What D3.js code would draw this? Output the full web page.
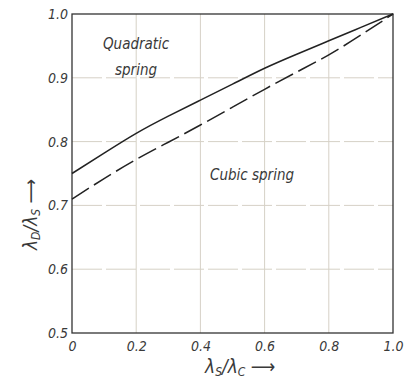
<!DOCTYPE html>
<html>
<head>
<meta charset="utf-8">
<script src="https://cdn.jsdelivr.net/npm/d3@7"></script>
<style>
  body { margin: 0; background: #fff; }
  text { font-family: "DejaVu Sans Condensed", "Liberation Sans Narrow", sans-serif; font-style: italic; fill: #3a3a3a; }
</style>
</head>
<body>
<svg id="chart"></svg>
<script>
const ratioX = [0, 0.1, 0.2, 0.3, 0.4, 0.5, 0.6, 0.7, 0.8, 0.9, 1.0];
const quadratic = [0.75, 0.782, 0.813, 0.84, 0.865, 0.89, 0.915, 0.937, 0.958, 0.979, 1.0];
const cubic = [0.71, 0.742, 0.772, 0.799, 0.826, 0.854, 0.882, 0.909, 0.936, 0.967, 1.0];
const xTicks = [0, 0.2, 0.4, 0.6, 0.8, 1.0];
const yTicks = [0.5, 0.6, 0.7, 0.8, 0.9, 1.0];

const margin = {top: 14, right: 15, bottom: 56, left: 72},
  width = 408,
  height = 389,
  innerW = width - margin.left - margin.right,
  innerH = height - margin.top - margin.bottom;

const svg = d3.select("#chart")
    .attr("width", width)
    .attr("height", height);
const g = svg.append("g")
    .attr("transform", `translate(${margin.left},${margin.top})`);

const x = d3.scaleLinear().domain([0, 1]).range([0, innerW]);
const y = d3.scaleLinear().domain([0.5, 1]).range([innerH, 0]);

// grid
g.append("g")
  .selectAll("line")
  .data(xTicks.slice(1, -1))
  .join("line")
    .attr("x1", d => x(d)).attr("x2", d => x(d))
    .attr("y1", 0).attr("y2", innerH)
    .attr("stroke", "#d6d1c6").attr("stroke-width", 1);
g.append("g")
  .selectAll("line")
  .data(yTicks.slice(1, -1))
  .join("line")
    .attr("x1", 0).attr("x2", innerW)
    .attr("y1", d => y(d)).attr("y2", d => y(d))
    .attr("stroke", "#d6d1c6").attr("stroke-width", 1)
    .attr("stroke-dasharray", "30,4");

// frame
g.append("rect")
  .attr("width", innerW).attr("height", innerH)
  .attr("fill", "none").attr("stroke", "#333").attr("stroke-width", 1.3);

// axes (labels only)
const xAxis = g.append("g")
  .attr("transform", `translate(0,${innerH})`)
  .call(d3.axisBottom(x).tickValues(xTicks).tickSize(0).tickPadding(8)
    .tickFormat(d => d === 0 ? "0" : d3.format(".1f")(d)));
const yAxis = g.append("g")
  .call(d3.axisLeft(y).tickValues(yTicks).tickSize(0).tickPadding(4)
    .tickFormat(d3.format(".1f")));
[xAxis, yAxis].forEach(a => {
  a.select(".domain").remove();
  a.selectAll("text").attr("font-size", 14).attr("fill", "#555")
    .style("font-family", "'DejaVu Sans Condensed', 'Liberation Sans Narrow', sans-serif");
});

const line = d3.line()
  .x((d, i) => x(ratioX[i]))
  .y(d => y(d))
  .curve(d3.curveNatural);

g.append("path")
  .datum(quadratic)
  .attr("d", line)
  .attr("fill", "none").attr("stroke", "#222").attr("stroke-width", 1.5);
g.append("path")
  .datum(cubic)
  .attr("d", line)
  .attr("fill", "none").attr("stroke", "#222").attr("stroke-width", 1.5)
  .attr("stroke-dasharray", "20,6");

// curve labels
g.append("text").attr("x", 31).attr("y", 35).attr("font-size", 15).text("Quadratic");
g.append("text").attr("x", 43).attr("y", 61).attr("font-size", 15).text("spring");
g.append("text").attr("x", 138).attr("y", 166).attr("font-size", 15).text("Cubic spring");

// axis titles
const xt = svg.append("text").attr("x", 205).attr("y", 373).attr("font-size", 19);
xt.append("tspan").text("λ");
xt.append("tspan").attr("font-size", 12).attr("dy", 3).text("S");
xt.append("tspan").attr("dy", -3).text("/λ");
xt.append("tspan").attr("font-size", 12).attr("dy", 3).text("C");
xt.append("tspan").attr("dy", -3).text(" ⟶");

const yt = svg.append("text")
  .attr("transform", "translate(37,250) rotate(-90)")
  .attr("font-size", 19);
yt.append("tspan").text("λ");
yt.append("tspan").attr("font-size", 12).attr("dy", 3).text("D");
yt.append("tspan").attr("dy", -3).text("/λ");
yt.append("tspan").attr("font-size", 12).attr("dy", 3).text("S");
yt.append("tspan").attr("dy", -3).text(" ⟶");
</script>
</body>
</html>
